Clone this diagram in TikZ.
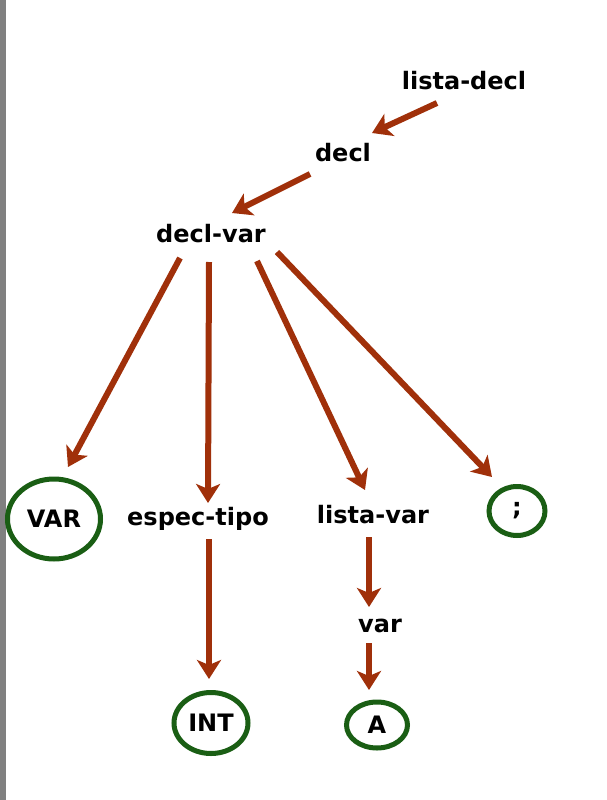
\documentclass[tikz,border=0pt]{standalone}
\usepackage{fontspec}
\setmainfont{DejaVu Sans}
\usetikzlibrary{arrows.meta,calc,shapes.geometric}
\definecolor{arrred}{RGB}{160,48,10}
\definecolor{ellgreen}{RGB}{26,94,20}
\definecolor{barGray}{RGB}{128,128,128}
\tikzset{
  lbl/.style={anchor=base,inner sep=0pt,font=\fontsize{24}{28}\selectfont\bfseries},
  term/.style={ellipse,draw=ellgreen,line width=5pt,inner sep=0pt,font=\fontsize{24}{28}\selectfont\bfseries},
  arr/.style={draw=arrred,line width=6pt,-{Stealth[length=19pt,width=24pt,inset=5pt]}}
}
\begin{document}
\begin{tikzpicture}[x=1pt,y=-1pt]
\useasboundingbox (0,0) rectangle (606,800);
\fill[white] (0,0) rectangle (606,800);
\fill[barGray] (0,0) rectangle (6,800);
% nonterminals
\node[lbl] (ld) at (464,89) {lista-decl};
\node[lbl] (decl) at (343,161) {decl};
\node[lbl] (dv) at (211,242) {decl-var};
\node[lbl] (et) at (198,525) {espec-tipo};
\node[lbl] (lv) at (373,523) {lista-var};
\node[lbl] (var) at (380,632) {var};
% terminals
\node[term,minimum width=93pt,minimum height=80pt] (VAR) at (54,519) {VAR};
\node[term,minimum width=56pt,minimum height=49pt] (semi) at (517,511) {;};
\node[term,minimum width=74pt,minimum height=61pt] (INT) at (211,723) {INT};
\node[term,minimum width=61pt,minimum height=46pt] (A) at (377,725) {A};
% arrows
\draw[arr] ($(ld.base)+(-27,14)$) -- ($(decl.base)+(29,-28)$);
\draw[arr] ($(decl.base)+(-33,13)$) -- ($(dv.base)+(21,-29)$);
\draw[arr] ($(dv.base)+(-31,16)$) -- ($(VAR)+(14,-52)$);
\draw[arr] ($(dv.base)+(-2,20)$) -- ($(et.base)+(10,-22)$);
\draw[arr] ($(dv.base)+(46,19)$) -- ($(lv.base)+(-8,-33)$);
\draw[arr] ($(dv.base)+(66,10)$) -- ($(semi)+(-25,-34)$);
\draw[arr] ($(et.base)+(11,14)$) -- ($(INT)+(-2,-44)$);
\draw[arr] ($(lv.base)+(-4,14)$) -- ($(var.base)+(-11,-25)$);
\draw[arr] ($(var.base)+(-11,11)$) -- ($(A)+(-8,-35)$);
\end{tikzpicture}
\end{document}
